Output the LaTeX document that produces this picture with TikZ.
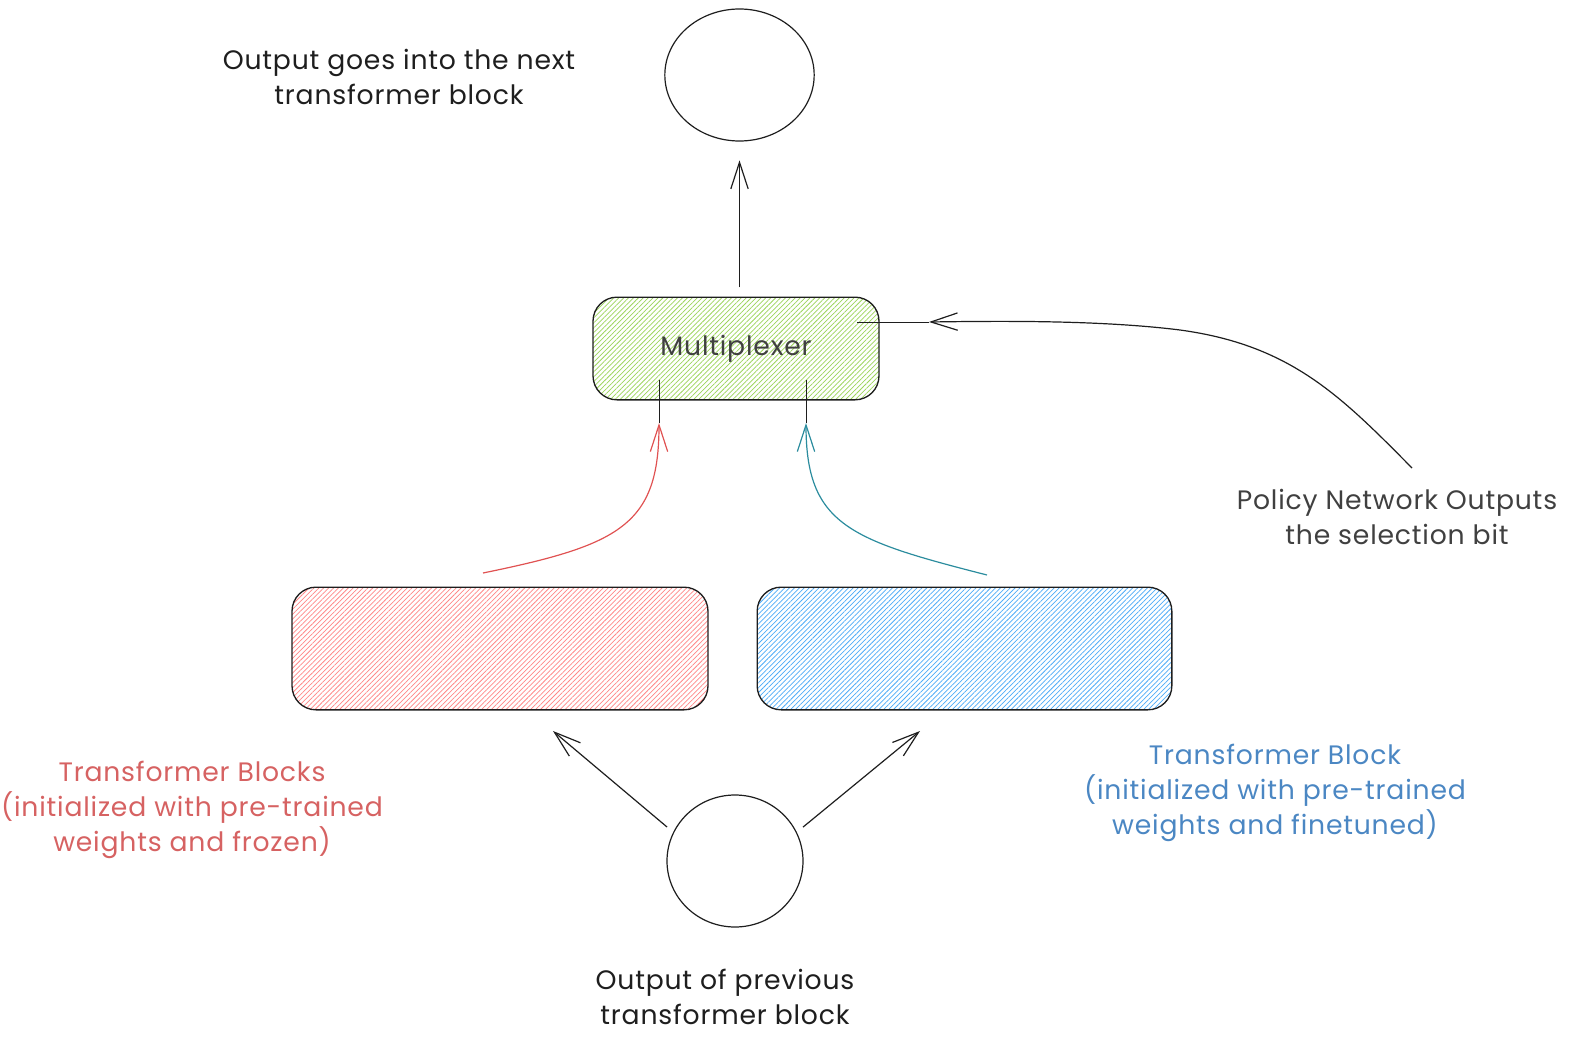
\documentclass[tikz,border=0pt]{standalone}
\usepackage{fontspec}
\setmainfont{Poppins}[LetterSpace=3]
\usetikzlibrary{arrows.meta,patterns.meta,shapes.geometric}

\definecolor{ink}{HTML}{1E1E1E}
\definecolor{frozenred}{HTML}{FF8787}
\definecolor{tunedblue}{HTML}{4DABF7}
\definecolor{muxgreen}{HTML}{9BD45A}
\definecolor{redtext}{HTML}{D66262}
\definecolor{bluetext}{HTML}{4B87C3}
\definecolor{redline}{HTML}{E05252}
\definecolor{tealline}{HTML}{2B8C9E}

\tikzset{
  block/.style={draw=ink, line width=1pt, rounded corners=18pt, inner sep=0pt},
  hatch/.style={pattern={Lines[angle=45,distance=2.6pt,line width=0.55pt]}, pattern color=#1},
  blob/.style={draw=ink, line width=0.9pt, ellipse, inner sep=0pt},
  note/.style={align=center, font=\fontsize{20}{26}\selectfont, inner sep=0.75pt, text=ink},
  arr/.style={-{Straight Barb[length=20pt,width=13pt]}, line width=0.9pt, draw=ink},
  stub/.style={line width=0.7pt, draw=ink},
}

\begin{document}
\begin{tikzpicture}[x=0.75pt,y=0.75pt,yscale=-1,xscale=1]
  \useasboundingbox (0,0) rectangle (1574,1049);

  %Shape: Circles
  \node[blob, minimum width=112pt, minimum height=99pt] (outcircle) at (739.5,75) {};
  \node[blob, minimum width=102pt, minimum height=99pt] (incircle) at (735,861) {};

  %Shape: Rounded Rects
  \node[block, hatch=muxgreen, minimum width=214.5pt, minimum height=77pt,
        font=\fontsize{20}{26}\selectfont, text=ink!85] (mux) at (736,348.5) {Multiplexer};
  \node[block, hatch=frozenred, minimum width=312pt, minimum height=92pt] (frozen) at (500,648.5) {};
  \node[block, hatch=tunedblue, minimum width=311pt, minimum height=92pt] (tuned) at (964.5,648.5) {};

  % Text Node
  \node[note] (outtext) at (399,77) {Output goes into the next\\transformer block};
  % Text Node
  \node[note] (intext) at (725,997) {Output of previous\\transformer block};
  % Text Node
  \node[note, text=redtext] (frozentext) at (192,810) {Transformer Blocks\\(initialized with pre-trained\\weights and frozen)};
  % Text Node
  \node[note, text=bluetext] (tunedtext) at (1275,793) {Transformer Block\\(initialized with pre-trained\\weights and finetuned)};
  % Text Node
  \node[note, text=ink!85] (policy) at (1397,517) {Policy Network Outputs\\the selection bit};

  % free ends of the connectors
  \coordinate (frozen in) at (553,731);
  \coordinate (tuned in) at (920,731);
  \coordinate (frozen out) at (483,573);
  \coordinate (tuned out) at (987,575);
  \coordinate (mux red in) at (659,423);
  \coordinate (mux red) at (659,380);
  \coordinate (mux teal in) at (806,423);
  \coordinate (mux teal) at (806,380);
  \coordinate (policy out) at (1412,468);
  \coordinate (mux sel in) at (929,322);
  \coordinate (mux sel) at (857,322);

  %Straight Lines
  \draw[arr, shorten <=7pt, shorten >=14pt] (mux.north -| outcircle.south) -- (outcircle.south);
  \draw[arr, shorten <=6pt] (incircle.155) -- (frozen in);
  \draw[arr, shorten <=6pt] (incircle.25) -- (tuned in);

  %Curve Lines
  \draw[arr, draw=redline] (frozen out) .. controls (620,545) and (659,525) .. (mux red in);
  \draw[arr, draw=tealline] (tuned out) .. controls (850,540) and (806,525) .. (mux teal in);
  \draw[arr] (policy out) .. controls (1340,395) and (1290,345) .. (1180,330) .. controls (1100,320) and (1000,321) .. (mux sel in);

  %Straight Lines
  \draw[stub] (mux red in) -- (mux red);
  \draw[stub] (mux teal in) -- (mux teal);
  \draw[stub] (mux sel in) -- (mux sel);
\end{tikzpicture}
\end{document}
